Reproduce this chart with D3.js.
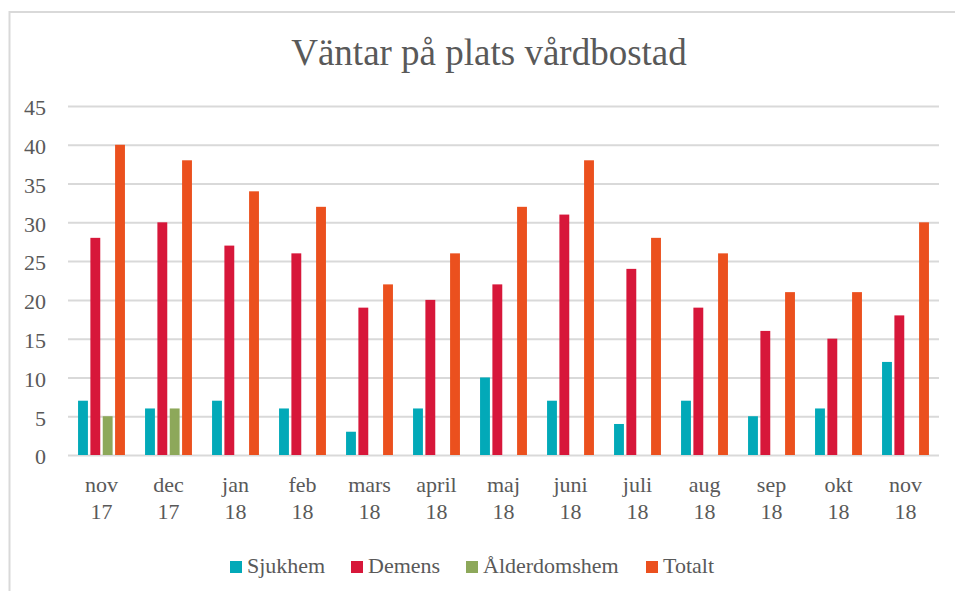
<!DOCTYPE html>
<html>
<head>
<meta charset="utf-8">
<script src="https://cdn.jsdelivr.net/npm/d3@7"></script>
<style>
  body { margin: 0; background: #fff; }
</style>
</head>
<body>
<div id="canvas"></div>
<script>
// data
var months = ['nov 17','dec 17','jan 18','feb 18','mars 18','april 18','maj 18','juni 18','juli 18','aug 18','sep 18','okt 18','nov 18'];
var seriesNames = ['Sjukhem','Demens','Ålderdomshem','Totalt'];
var sjukhem = [7,6,7,6,3,6,10,7,4,7,5,6,12];
var demens = [28,30,27,26,19,20,22,31,24,19,16,15,18];
var alderdom = [5,6,0,0,0,0,0,0,0,0,0,0,0];
var totalt = [40,38,34,32,22,26,32,38,28,26,21,21,30];
var yTicks = [0,5,10,15,20,25,30,35,40,45];
var colors = ['#02A9B8','#D7173A','#8DA85A','#EB501E'];

var FONT = '"Liberation Serif", "Times New Roman", serif';
var W = 955, H = 591;
var m = {t:106, r:16, b:136, l:68};
var w = W - m.l - m.r, h = H - m.t - m.b;

var svg = d3.select('#canvas').append('svg')
    .attr('width', W).attr('height', H)
    .style('font-family', FONT);

// outer frame
svg.append('rect')
    .attr('x', 9.5).attr('y', 12)
    .attr('width', 980).attr('height', 600)
    .attr('fill', 'none').attr('stroke', '#D9D9D9').attr('stroke-width', 2);

svg.append('text')
    .attr('x', 489).attr('y', 65)
    .attr('text-anchor', 'middle')
    .style('font-family', FONT)
    .style('font-size', '37px')
    .attr('fill', '#595959')
    .text('Väntar på plats vårdbostad');

var plot = svg.append('g').attr('transform', 'translate(' + m.l + ',' + m.t + ')');

var y = d3.scaleLinear().domain([0,45]).range([h,0]);
var x0 = d3.scaleBand().domain(months).range([0,w]).paddingInner(0.3).paddingOuter(0.15);
var x1 = d3.scaleBand().domain(seriesNames).range([0,x0.bandwidth()]).paddingInner(0.2);

// gridlines + y labels
var yAxis = d3.axisLeft(y).tickValues(yTicks).tickSize(-w).tickFormat(d3.format('d'));
var gy = plot.append('g').call(yAxis);
gy.attr('font-family', null).attr('font-size', null);
gy.select('.domain').remove();
gy.selectAll('line').attr('stroke', '#D9D9D9').attr('stroke-width', 2);
gy.selectAll('text').attr('x', -22).attr('dy', '0.4em')
    .style('font-family', FONT).style('font-size', '22px').attr('fill', '#595959');

var table = months.map(function(mo, i){
    return {month: mo, vals: [sjukhem[i], demens[i], alderdom[i], totalt[i]]};
});

var groups = plot.selectAll('.grp').data(table).enter().append('g')
    .attr('class','grp')
    .attr('transform', function(d){ return 'translate(' + x0(d.month) + ',0)'; });

groups.selectAll('rect').data(function(d){ return d.vals.map(function(v,j){ return {name: seriesNames[j], v: v, c: colors[j]}; }); })
    .enter().append('rect')
    .attr('x', function(d){ return x1(d.name); })
    .attr('width', x1.bandwidth())
    .attr('y', function(d){ return y(d.v); })
    .attr('height', function(d){ return h - y(d.v); })
    .attr('fill', function(d){ return d.c; });

// x labels, two lines
var xs = d3.scaleBand().domain(months).range([0,w]);
var xl = plot.append('g').attr('transform','translate(0,' + h + ')');
xl.selectAll('text').data(months).enter().append('text')
    .attr('text-anchor','middle')
    .style('font-family', FONT)
    .style('font-size','22px')
    .attr('fill', '#595959')
    .attr('transform', function(d){ return 'translate(' + (xs(d) + xs.bandwidth()/2) + ',0)'; })
    .each(function(d){
        var parts = d.split(' ');
        var t = d3.select(this);
        t.append('tspan').attr('x',0).attr('y',37).text(parts[0]);
        t.append('tspan').attr('x',0).attr('y',64).text(parts[1]);
    });

// legend
var legX = [230, 351, 466, 646];
var leg = svg.append('g').attr('transform','translate(0,567)');
seriesNames.forEach(function(s, i){
    leg.append('rect').attr('x', legX[i]).attr('y', -6).attr('width', 12).attr('height', 12).attr('fill', colors[i]);
    leg.append('text').attr('x', legX[i] + 17).attr('y', 6)
        .style('font-family', FONT).style('font-size','22px').attr('fill', '#595959').text(s);
});
</script>
</body>
</html>
